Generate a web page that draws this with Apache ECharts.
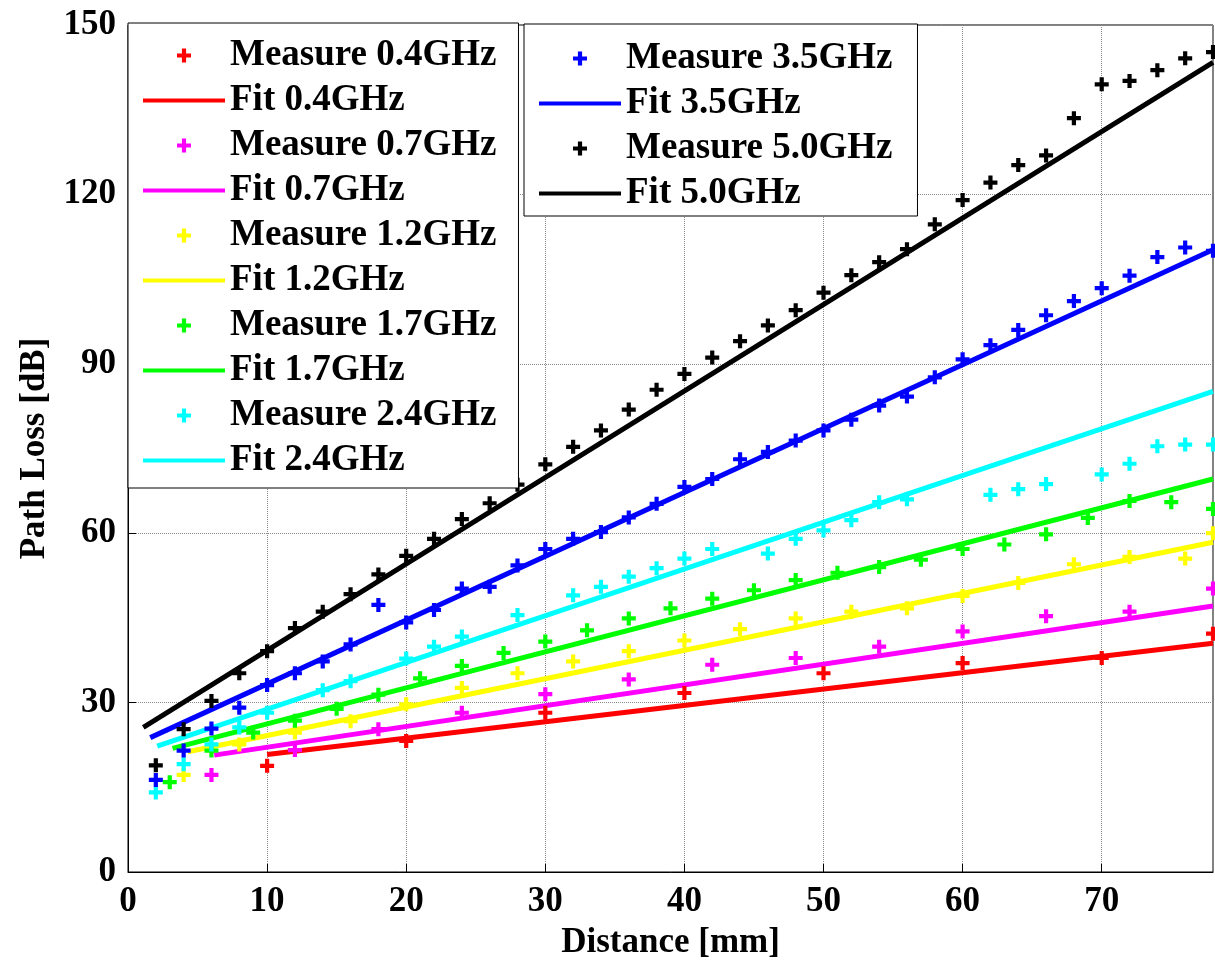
<!DOCTYPE html>
<html>
<head>
<meta charset="utf-8">
<script src="https://cdn.jsdelivr.net/npm/echarts@6/dist/echarts.min.js"></script>
<style>
html,body{margin:0;padding:0;background:#fff;}
#chart{width:1215px;height:965px;}
</style>
</head>
<body>
<div id="chart"></div>
<script>
// ---- Data ----
const xTicks = [0, 10, 20, 30, 40, 50, 60, 70];
const yTicks = [0, 30, 60, 90, 120, 150];

const names = ['0.4GHz', '0.7GHz', '1.2GHz', '1.7GHz', '2.4GHz', '3.5GHz', '5.0GHz'];
const colors = ['#ff0000', '#ff00ff', '#ffff00', '#00ff00', '#00ffff', '#0000ff', '#000000'];

// Measurements: [distance mm, path loss dB]
const meas04 = [[10,18.8],[20,23.2],[30,28.2],[40,31.7],[50,35.2],[60,37.0],[70,37.9],[78,42.2]];
const meas07 = [[6,17.2],[12,21.6],[18,25.3],[24,28.2],[30,31.5],[36,34.1],[42,36.7],[48,37.9],[54,39.9],[60,42.6],[66,45.3],[72,46.1],[78,50.2]];
const meas12 = [[4,17.2],[8,22.6],[12,24.7],[16,26.7],[20,29.7],[24,32.6],[28,35.2],[32,37.3],[36,39.1],[40,41.0],[44,43.0],[48,44.9],[52,46.1],[56,46.7],[60,48.9],[64,51.2],[68,54.5],[72,55.8],[76,55.5],[78,60.0]];
const meas17 = [[3,15.9],[6,21.5],[9,24.7],[12,26.8],[15,28.9],[18,31.4],[21,34.3],[24,36.5],[27,38.8],[30,40.8],[33,42.8],[36,44.9],[39,46.7],[42,48.4],[45,49.9],[48,51.7],[51,53.0],[54,54.0],[57,55.3],[60,57.2],[63,58.0],[66,59.8],[69,62.7],[72,65.7],[75,65.5],[78,64.3]];
const meas24 = [[2,14.1],[4,19.1],[6,22.6],[8,25.6],[10,28.2],[14,32.2],[16,33.8],[20,37.8],[22,39.9],[24,41.7],[28,45.5],[32,49.0],[34,50.5],[36,52.3],[38,53.8],[40,55.5],[42,57.2],[46,56.4],[48,59.0],[50,60.5],[52,62.3],[54,65.5],[56,66.0],[62,66.8],[64,67.8],[66,68.7],[70,70.4],[72,72.3],[74,75.4],[76,75.7],[78,75.7]];
const meas35 = [[2,16.3],[4,21.5],[6,25.4],[8,29.1],[10,33.1],[12,35.2],[14,37.3],[16,40.3],[18,47.3],[20,44.2],[22,46.4],[24,50.2],[26,50.5],[28,54.3],[30,57.2],[32,59.0],[34,60.2],[36,62.8],[38,65.2],[40,68.2],[42,69.6],[44,73.1],[46,74.4],[48,76.4],[50,78.2],[52,80.1],[54,82.6],[56,84.2],[58,87.6],[60,90.8],[62,93.3],[64,96.0],[66,98.6],[68,101.1],[70,103.4],[72,105.6],[74,108.9],[76,110.6],[78,110.0]];
const meas50 = [[2,18.9],[4,25.3],[6,30.3],[8,35.2],[10,39.1],[12,43.2],[14,46.1],[16,49.2],[18,52.7],[20,56.0],[22,59.0],[24,62.5],[26,65.3],[28,68.6],[30,72.2],[32,75.3],[34,78.2],[36,81.9],[38,85.4],[40,88.2],[42,91.1],[44,94.0],[46,96.8],[48,99.5],[50,102.6],[52,105.7],[54,108.0],[56,110.3],[58,114.7],[60,119.0],[62,122.1],[64,125.2],[66,126.9],[68,133.5],[70,139.5],[72,140.1],[74,142.0],[76,144.1],[78,145.2]];

// Fit lines: start and end points
const fit04 = [[10,20.8],[78,40.5]];
const fit07 = [[6.2,20.7],[78,47.1]];
const fit12 = [[4.3,21.3],[78,58.4]];
const fit17 = [[3.2,21.9],[78,69.6]];
const fit24 = [[2.1,22.3],[78,85.1]];
const fit35 = [[1.6,23.8],[78,110.2]];
const fit50 = [[1.1,25.6],[78,143.4]];

const measures = [meas04, meas07, meas12, meas17, meas24, meas35, meas50];
const fits = [fit04, fit07, fit12, fit17, fit24, fit35, fit50];

// ---- Chart ----
const FONT = 'Liberation Serif';
const plusPath = 'path://M3.5,0H6.5V3.5H10V6.5H6.5V10H3.5V6.5H0V3.5H3.5Z';
const lineIcon = 'path://M0,0H80V4H0Z';

const series = [];
names.forEach((n, i) => {
  series.push({
    name: 'Measure ' + n,
    type: 'scatter',
    data: measures[i],
    symbol: plusPath,
    symbolSize: 14,
    symbolKeepAspect: true,
    itemStyle: { color: colors[i], opacity: 1 },
    emphasis: { disabled: true },
    z: 3
  });
  series.push({
    name: 'Fit ' + n,
    type: 'line',
    data: fits[i],
    showSymbol: false,
    symbol: 'none',
    lineStyle: { color: colors[i], width: 5 },
    itemStyle: { color: colors[i] },
    emphasis: { disabled: true },
    z: 2
  });
});

const legendData1 = [];
const legendData2 = [];
names.forEach((n, i) => {
  const arr = i < 5 ? legendData1 : legendData2;
  arr.push({ name: 'Measure ' + n, icon: plusPath });
  arr.push({ name: 'Fit ' + n, icon: lineIcon });
});

const legendText = { fontFamily: FONT, fontWeight: 'bold', fontSize: 37, color: '#000', lineHeight: 45 };

const option = {
  animation: false,
  backgroundColor: '#fff',
  grid: {
    left: 128, right: 2, top: 25, bottom: 88,
    show: true, borderColor: '#000', borderWidth: 1, backgroundColor: '#fff'
  },
  xAxis: {
    type: 'value', min: 0, max: 78, interval: 10,
    name: 'Distance [mm]', nameLocation: 'middle', nameGap: 53,
    nameTextStyle: { fontFamily: FONT, fontWeight: 'bold', fontSize: 35, color: '#000' },
    axisLine: { show: true, lineStyle: { color: '#000', width: 1 } },
    axisTick: { show: true, inside: true, length: 8, lineStyle: { color: '#000' } },
    axisLabel: {
      fontFamily: FONT, fontWeight: 'bold', fontSize: 35, color: '#000', margin: 12,
      showMaxLabel: false,
      formatter: v => xTicks.includes(v) ? String(v) : ''
    },
    splitLine: { show: true, lineStyle: { color: '#888', type: 'dotted', width: 1 } }
  },
  yAxis: {
    type: 'value', min: 0, max: 150, interval: 30,
    name: 'Path Loss [dB]', nameLocation: 'middle', nameGap: 76,
    nameTextStyle: { fontFamily: FONT, fontWeight: 'bold', fontSize: 35, color: '#000' },
    axisLine: { show: true, lineStyle: { color: '#000', width: 1 } },
    axisTick: { show: true, inside: true, length: 8, lineStyle: { color: '#000' } },
    axisLabel: {
      fontFamily: FONT, fontWeight: 'bold', fontSize: 35, color: '#000', margin: 12,
      formatter: v => yTicks.includes(v) ? String(v) : ''
    },
    splitLine: { show: true, lineStyle: { color: '#888', type: 'dotted', width: 1 } }
  },
  legend: [
    {
      left: 128, top: 23, orient: 'vertical',
      padding: [10, 22, 5, 15], itemGap: 0, itemWidth: 82, itemHeight: 14,
      backgroundColor: '#fff', borderColor: '#000', borderWidth: 1, borderRadius: 0,
      selectedMode: false,
      textStyle: legendText,
      data: legendData1
    },
    {
      left: 524, top: 24, orient: 'vertical',
      padding: [12, 25, 0, 15], itemGap: 0, itemWidth: 82, itemHeight: 14,
      backgroundColor: '#fff', borderColor: '#000', borderWidth: 1, borderRadius: 0,
      selectedMode: false,
      textStyle: legendText,
      data: legendData2
    }
  ],
  series: series
};

const chart = echarts.init(document.getElementById('chart'), null, { renderer: 'canvas' });
chart.setOption(option);
</script>
</body>
</html>
